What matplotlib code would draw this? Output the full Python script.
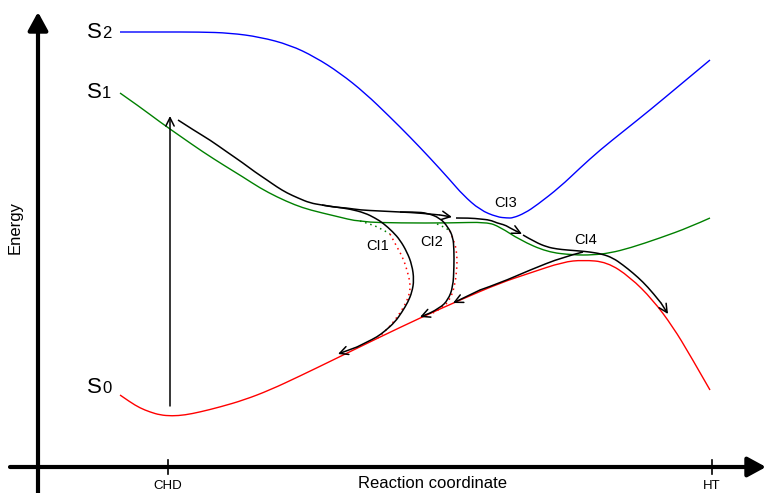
import matplotlib
matplotlib.use("Agg")
import matplotlib.pyplot as plt
from matplotlib.patches import FancyArrowPatch, PathPatch
from matplotlib.path import Path

plt.rcParams['font.family'] = ['Liberation Sans', 'DejaVu Sans']

# potential energy curves (picture coordinates, y grows downwards)
s2_x = [120, 160, 200, 230, 260, 290, 315, 340, 365, 390, 410, 430, 450, 463, 480, 497, 507, 513, 525, 537, 560, 580, 600, 625, 650, 680, 710]
s2_y = [32, 32, 32, 33, 37, 45, 57, 73, 93, 117, 137, 158, 180, 195, 210, 217, 218, 218, 213, 205, 187, 168, 150, 130, 110, 85, 60]

s1_x = [120, 140, 160, 180, 203, 225, 243, 260, 277, 295, 310, 335, 360, 400, 450, 487, 500, 520, 547, 573, 593, 610, 630, 660, 690, 710]
s1_y = [93, 107, 122, 136, 152, 166, 177, 188, 197, 205, 210, 216, 222, 223, 223, 222, 227, 240, 252, 255, 255, 253, 248, 238, 227, 218]

s0_x = [120, 130, 140, 150, 160, 172, 185, 200, 220, 244, 270, 300, 333, 380, 420, 460, 500, 530, 563, 583, 607, 630, 653, 673, 690, 710]
s0_y = [395, 402, 408, 412, 415, 416, 415, 412, 407, 400, 390, 376, 360, 337, 318, 300, 283, 273, 262, 260, 262, 277, 300, 327, 355, 390]

# trajectories
main1_x = [178, 195, 210, 227, 243, 255, 267, 277, 287, 298, 310, 322, 333, 347, 360, 380, 400, 420, 440, 452]
main1_y = [120, 131, 140, 152, 163, 172, 180, 187, 193, 198, 203, 205, 207, 208, 210, 211, 212, 213, 215, 217]
main2_x = [456, 470, 480, 490, 497, 505, 510, 516, 522]
main2_y = [218, 218, 219, 220, 223, 225, 228, 231, 234]
main3_x = [523, 535, 547, 557, 567, 580, 590, 602, 613, 623, 633, 643, 653, 661, 668]
main3_y = [235, 242, 247, 249, 250, 251, 252, 254, 258, 265, 273, 282, 293, 303, 314]

ci1_x = [322, 335, 350, 365, 375, 383, 393, 400, 407, 412, 414, 412, 408, 402, 395, 385, 377, 367, 357, 338]
ci1_y = [205, 207, 209, 213, 218, 223, 232, 240, 252, 265, 280, 292, 302, 312, 322, 331, 337, 342, 347, 354]
ci2_x = [400, 415, 427, 440, 448, 453, 454, 454, 453, 448, 440, 430, 420]
ci2_y = [212, 212, 213, 218, 227, 237, 250, 267, 287, 300, 308, 313, 317]
ci4_x = [583, 563, 530, 500, 480, 453]
ci4_y = [252, 257, 270, 283, 290, 303]

# dotted diabatic paths through the intersections
ci1_g_x = [360, 370, 380, 390]
ci1_g_y = [221, 224, 228, 234]
ci1_r_x = [390, 397, 403, 407, 410, 410, 406, 400, 392, 383, 378]
ci1_r_y = [234, 247, 258, 270, 282, 292, 303, 313, 324, 333, 338]
ci2_g_x = [437, 443, 450]
ci2_g_y = [224, 226, 231]
ci2_r_x = [450, 455, 457, 457, 455, 450, 442, 433]
ci2_r_y = [231, 243, 255, 267, 285, 300, 308, 313]

# excitation
exc_x = [170, 170]
exc_y = [406, 116]

labels_ci = ['CI1', 'CI2', 'CI3', 'CI4']
labels_ci_xy = [(378, 246), (432, 242), (506, 203), (586, 240)]

tick_names = ['CHD', 'HT']
tick_pos = [168, 712]

fig = plt.figure(figsize=(7.65, 4.93), dpi=100)
ax = fig.add_axes([0, 0, 1, 1])
ax.set_xlim(0, 765)
ax.set_ylim(493, 0)
ax.axis('off')


def smooth(xs, ys, **kw):
    # quadratic B-spline style path through the read points
    pts = list(zip(xs, ys))
    verts = [pts[0]]
    codes = [Path.MOVETO]
    for i in range(1, len(pts) - 1):
        mid = ((pts[i][0] + pts[i + 1][0]) / 2, (pts[i][1] + pts[i + 1][1]) / 2)
        if i == len(pts) - 2:
            mid = pts[-1]
        verts += [pts[i], mid]
        codes += [Path.CURVE3, Path.CURVE3]
    if len(pts) == 2:
        verts.append(pts[1])
        codes.append(Path.LINETO)
    ax.add_patch(PathPatch(Path(verts, codes), fill=False, capstyle='butt', **kw))


smooth(s2_x, s2_y, edgecolor='#0000ff', lw=1.0)
smooth(s1_x, s1_y, edgecolor='#008000', lw=1.0)
smooth(s0_x, s0_y, edgecolor='#ff0000', lw=1.0)

dots = (0, (1, 2.5))
smooth(ci1_g_x, ci1_g_y, edgecolor='#008000', lw=1.1, ls=dots)
smooth(ci1_r_x, ci1_r_y, edgecolor='#ff0000', lw=1.1, ls=dots)
smooth(ci2_g_x, ci2_g_y, edgecolor='#008000', lw=1.1, ls=dots)
smooth(ci2_r_x, ci2_r_y, edgecolor='#ff0000', lw=1.1, ls=dots)


def path_arrow(xs, ys):
    smooth(xs[:-1], ys[:-1], edgecolor='black', lw=1.1)
    ax.annotate('', xy=(xs[-1], ys[-1]), xytext=(xs[-2], ys[-2]),
                arrowprops=dict(arrowstyle='->', color='black', lw=1.1,
                                mutation_scale=15, shrinkA=0, shrinkB=0))


for px, py in [(main1_x, main1_y), (main2_x, main2_y), (main3_x, main3_y),
               (ci1_x, ci1_y), (ci2_x, ci2_y), (ci4_x, ci4_y), (exc_x, exc_y)]:
    path_arrow(px, py)

for lab, (lx, ly) in zip(labels_ci, labels_ci_xy):
    ax.text(lx, ly, lab, fontsize=10.5, ha='center', va='center')

# state labels
for digit, base in [('2', 38), ('1', 98), ('0', 393)]:
    ax.text(87, base, 'S', fontsize=16, ha='left', va='baseline')
    ax.text(102, base, digit, fontsize=12, ha='left', va='baseline')

# axes drawn as thick arrows
head = '-|>,head_length=1.1,head_width=0.6'
ax.add_patch(FancyArrowPatch((38, 493), (38, 12), arrowstyle=head,
                             mutation_scale=10, lw=3, color='black', shrinkA=0, shrinkB=0))
ax.add_patch(FancyArrowPatch((10, 467), (766, 467), arrowstyle=head,
                             mutation_scale=10, lw=3, color='black', shrinkA=0, shrinkB=0))

for name, xp in zip(tick_names, tick_pos):
    ax.plot([xp, xp], [460, 474], color='black', lw=1.2)
    ax.text(xp, 486, name, fontsize=9.5, ha='center', va='center')

ax.text(433, 483, 'Reaction coordinate', fontsize=12, ha='center', va='center')
ax.text(15, 228, 'Energy', fontsize=12, ha='center', va='center', rotation=90)

fig.savefig('out.png', dpi=100)
